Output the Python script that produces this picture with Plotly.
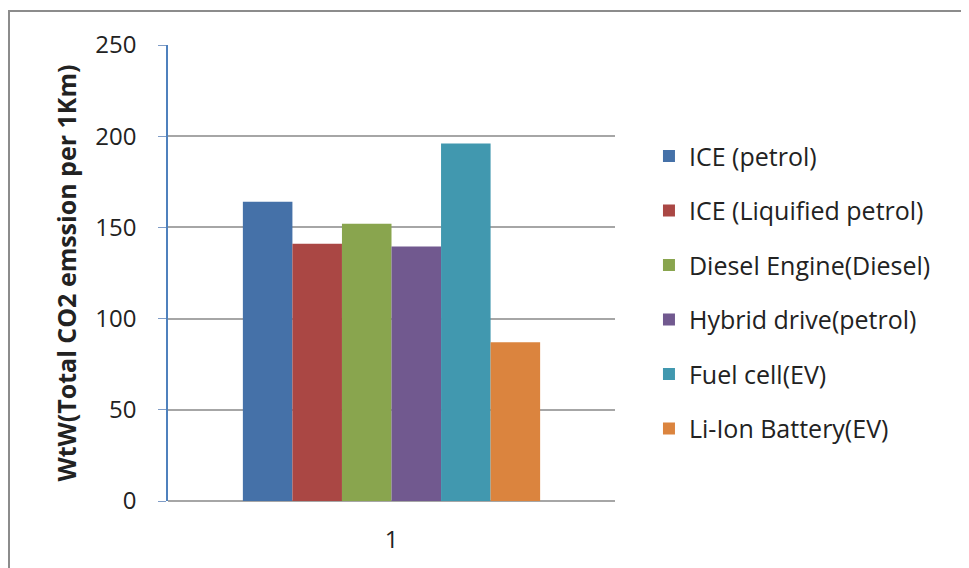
import plotly.graph_objects as go

categories = ["1"]
series_names = ["ICE (petrol)", "ICE (Liquified petrol)", "Diesel Engine(Diesel)",
                "Hybrid drive(petrol)", "Fuel cell(EV)", "Li-Ion Battery(EV)"]
series_values = [164, 141, 152, 139.5, 196, 87]
series_colors = ["#4571A8", "#AA4744", "#89A54E", "#71598F", "#4198AF", "#DB843E"]
y_ticks = [0, 50, 100, 150, 200, 250]

FONT = "Open Sans"

fig = go.Figure()
for i, (name, val, col) in enumerate(zip(series_names, series_values, series_colors)):
    fig.add_trace(go.Bar(
        x=categories, y=[val], name=name, legendgroup=f"g{i}",
        marker=dict(color=col, line=dict(width=0)),
    ))

# page body has an 8px margin; figure is sized so that it fills the window
fig.update_layout(
    width=961, height=560, autosize=False,
    margin=dict(l=160, r=354, t=37, b=67),
    paper_bgcolor="white", plot_bgcolor="white",
    barmode="group", bargap=0.335, bargroupgap=0,
    font=dict(family=FONT, color="#222222", size=24),
    showlegend=True,
    legend=dict(
        x=1.076, xanchor="left", y=0.458, yanchor="middle",
        font=dict(family=FONT, size=25, color="#222222"),
        tracegroupgap=19, traceorder="grouped",
        bgcolor="rgba(0,0,0,0)",
    ),
    xaxis=dict(
        showgrid=False, showline=False, zeroline=False,
        ticks="", tickfont=dict(size=24, family=FONT),
        ticklabelstandoff=22,
    ),
    yaxis=dict(
        range=[0, 250], tickvals=y_ticks, ticktext=[str(v) for v in y_ticks],
        showgrid=True, gridcolor="#A6A6A6", gridwidth=1.5,
        showline=True, linecolor="#4F81BD", linewidth=1.5,
        ticks="outside", ticklen=8, tickcolor="#7F9CC6", tickwidth=1.2,
        ticklabelstandoff=17,
        zeroline=True, zerolinecolor="#A6A6A6", zerolinewidth=1.5,
        tickfont=dict(size=24, family=FONT),
        title=dict(text="<b>WtW(Total CO2 emssion per 1Km)</b>",
                   font=dict(size=25, family=FONT), standoff=12),
    ),
    shapes=[dict(
        type="rect", xref="paper", yref="paper",
        x0=(9 - 168) / 447, x1=(1000 - 168) / 447,
        y0=(501 - 620) / 456, y1=(501 - 11) / 456,
        line=dict(color="#8C8C8C", width=2), fillcolor="rgba(0,0,0,0)",
        layer="below",
    )],
)

fig.write_html("out.html")
